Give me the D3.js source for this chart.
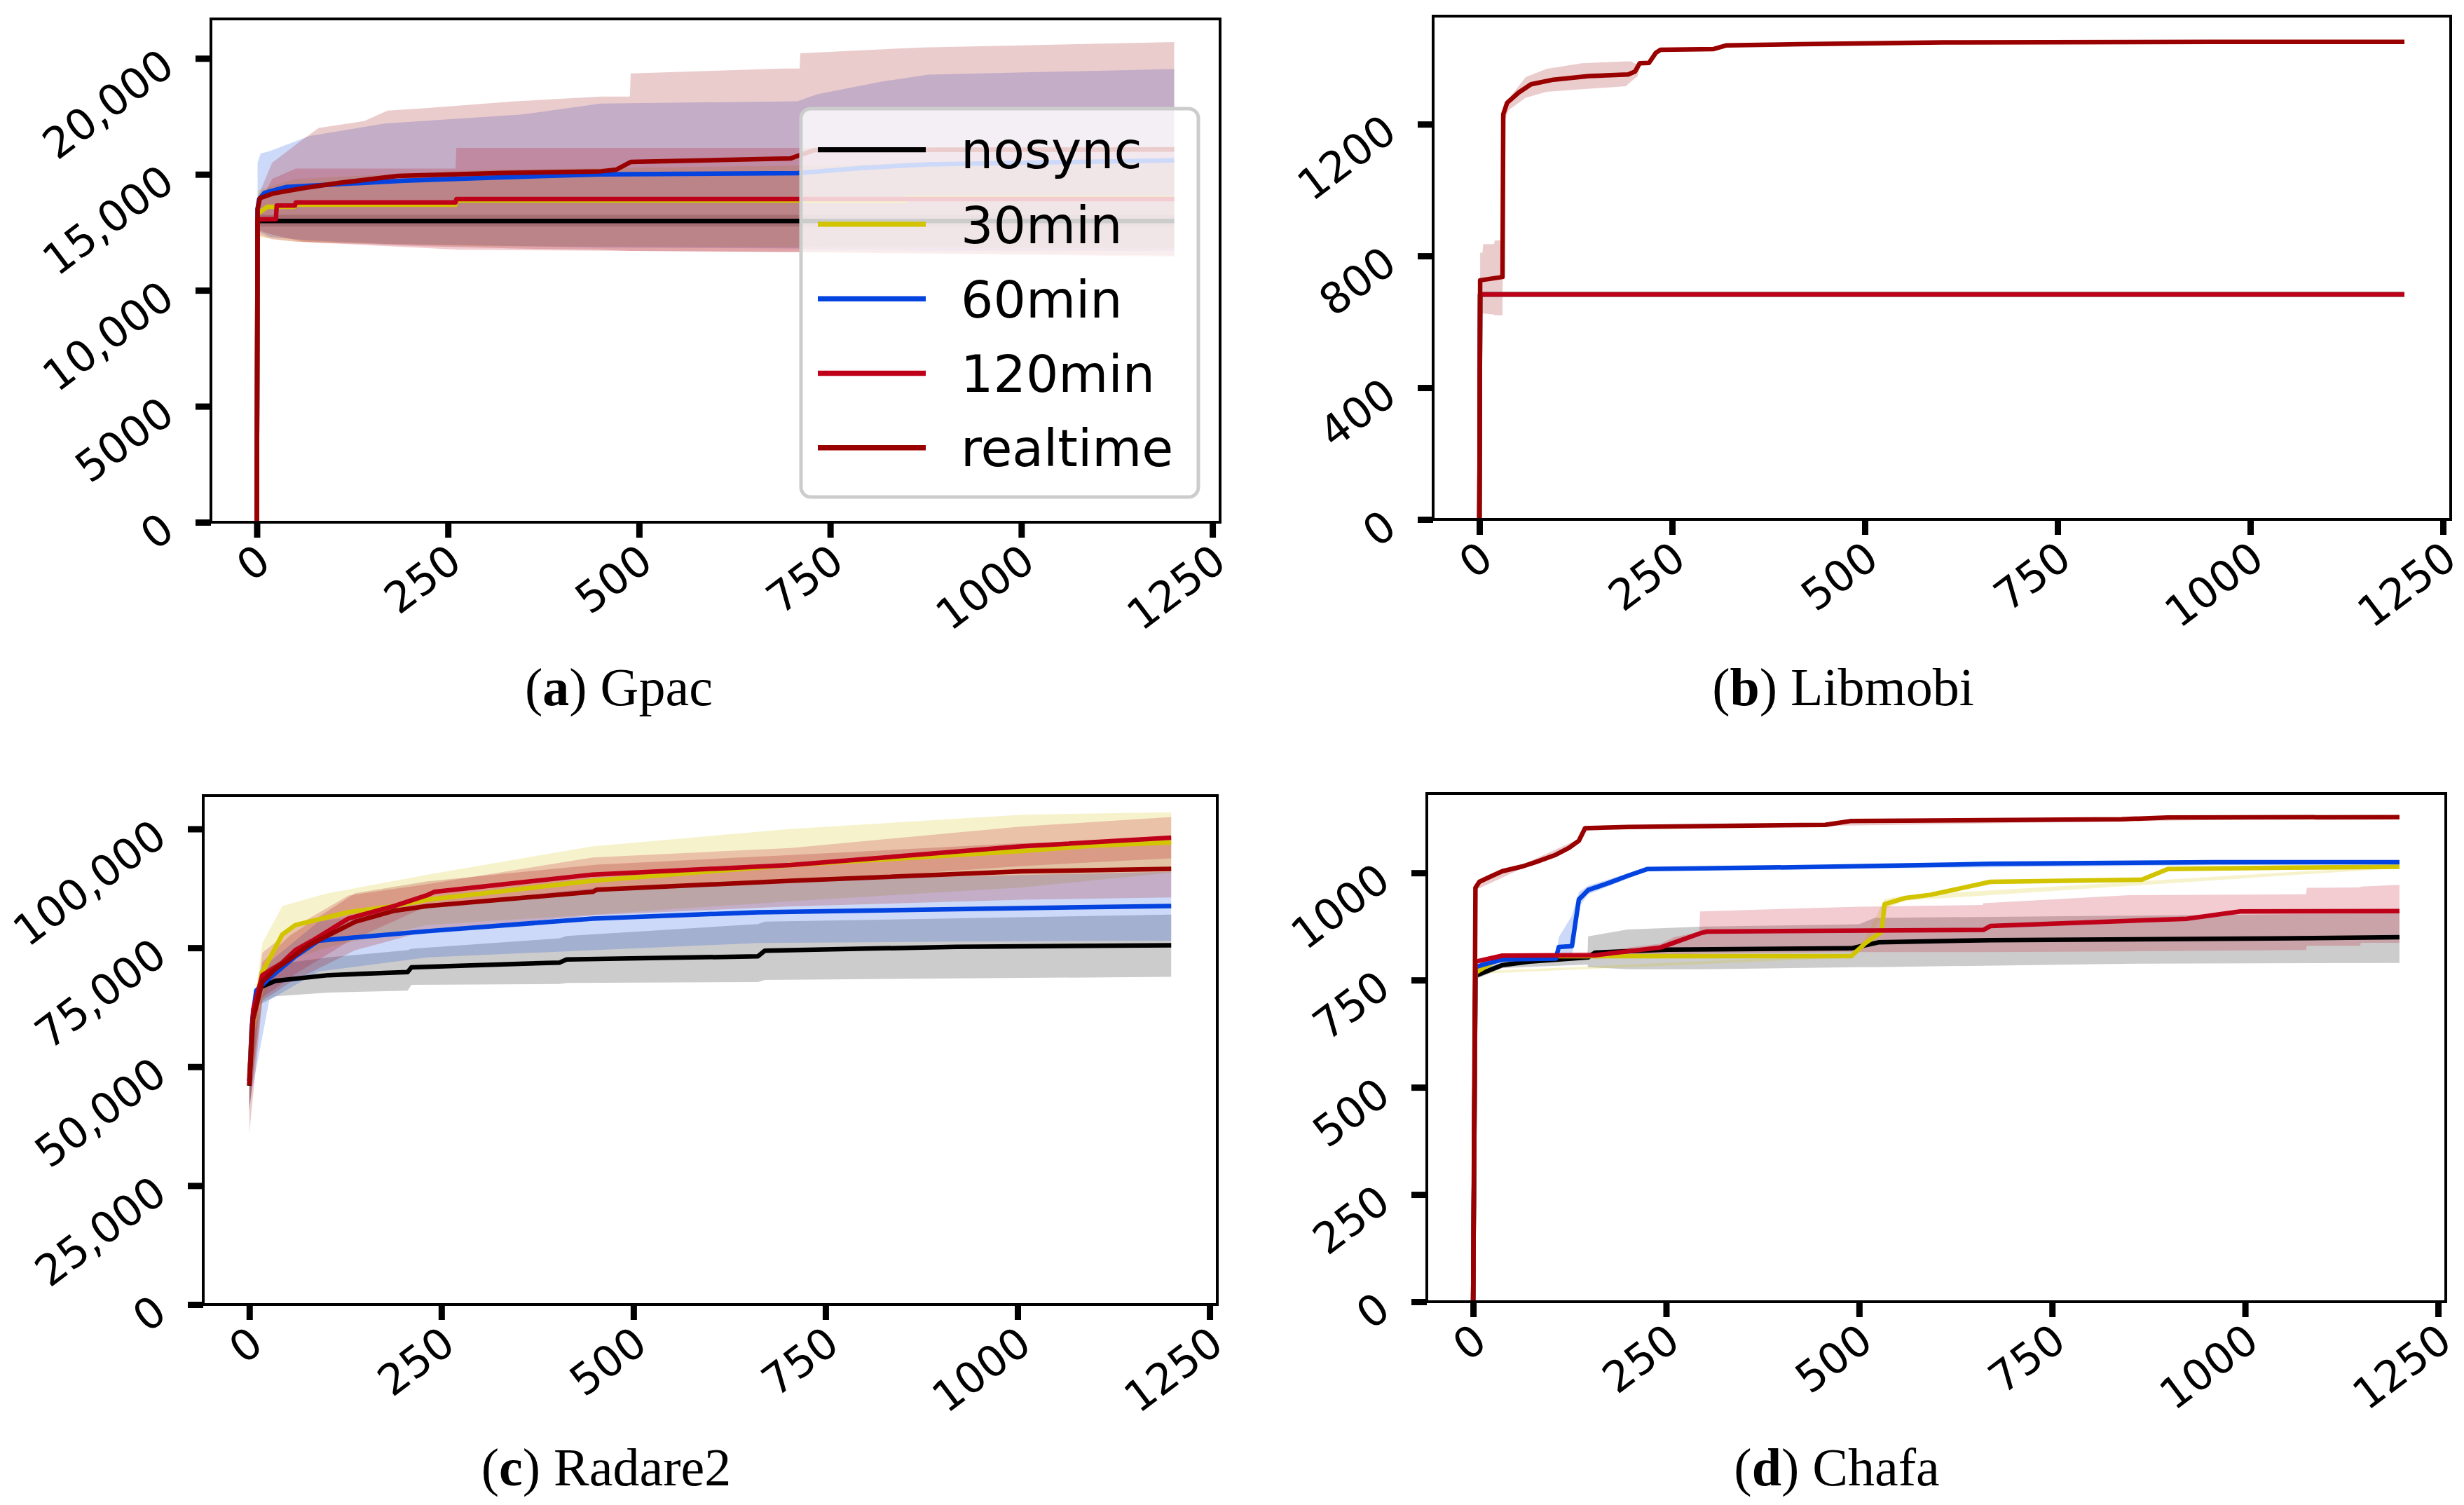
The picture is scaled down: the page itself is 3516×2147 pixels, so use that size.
<!DOCTYPE html>
<html><head><meta charset="utf-8">
<script src="https://cdn.jsdelivr.net/npm/d3@7/dist/d3.min.js"></script>
<style>html,body{margin:0;padding:0;background:#fff}svg{display:block}</style>
</head><body>
<svg id="chart" width="3516" height="2147"></svg>
<script>
// ---------------- data ----------------
const seriesNames = ["nosync", "30min", "60min", "120min", "realtime"];
const seriesColors = ["#000000", "#d2c400", "#0343df", "#be0119", "#990000"];
const xTickValues = [0, 250, 500, 750, 1000, 1250];
const xTickLabels = ["0", "250", "500", "750", "1000", "1250"];

const gpacYTicks = [0, 5000, 10000, 15000, 20000];
const gpacYLabels = ["0", "5000", "10,000", "15,000", "20,000"];
const libmobiYTicks = [0, 400, 800, 1200];
const libmobiYLabels = ["0", "400", "800", "1200"];
const radareYTicks = [0, 25000, 50000, 75000, 100000];
const radareYLabels = ["0", "25,000", "50,000", "75,000", "100,000"];
const chafaYTicks = [0, 250, 500, 750, 1000];
const chafaYLabels = ["0", "250", "500", "750", "1000"];

// mean curves: [time, value]
const gpacMean = {
  nosync: [[0,0],[1,12990],[1200,12990]],
  "30min": [[0,0],[1,13300],[14,13600],[49,13600],[50,13690],[260,13690],[261,13870],[849,13870],[850,13960],[1200,13960]],
  "60min": [[0,0],[1,13500],[3,13930],[10,14200],[39,14456],[110,14580],[193,14728],[300,14850],[450,15000],[707,15050],[793,15281],[878,15432],[1000,15500],[1200,15600]],
  "120min": [[0,0],[1,13066],[25,13066],[26,13650],[50,13650],[51,13790],[260,13790],[261,13930],[1200,13930]],
  realtime: [[0,0],[1,13500],[4,13970],[21,14170],[60,14400],[107,14626],[184,14928],[321,15059],[450,15130],[470,15200],[489,15532],[698,15683],[711,15835],[730,16050],[1200,16070]]
};
// bands: [time, low, high]
const gpacBand = {
  nosync: [[1,12750,13250],[1200,12750,13250]],
  "30min": [[1,12300,14300],[50,12100,14800],[300,11900,15200],[1200,11800,15600]],
  "60min": [[1,12600,15500],[5,12500,15900],[17,12300,16000],[69,12150,16650],[167,12000,17190],[347,11900,17580],[450,11850,18050],[707,11800,18150],[733,11750,18450],[818,11750,19000],[878,11700,19300],[1200,11700,19540]],
  "120min": [[1,12400,13600],[20,12200,14800],[51,12100,15250],[260,11760,15250],[261,11750,16140],[700,11650,16140],[1200,11450,16200]],
  realtime: [[1,12600,14000],[20,12400,15500],[60,12100,16500],[81,12050,17000],[141,12000,17300],[171,11950,17750],[218,11900,17850],[338,11800,18150],[450,11750,18350],[488,11700,18350],[489,11700,19350],[690,11650,19560],[710,11650,19560],[711,11650,20220],[870,11600,20470],[1200,11500,20700]]
};

const libmobiMean = {
  nosync: [[0,0],[1,683],[1200,683]],
  "30min": [[0,0],[1,683],[1200,683]],
  "60min": [[0,0],[1,683],[1200,683]],
  "120min": [[0,0],[1,683],[1200,683]],
  realtime: [[0,0],[1,726],[30,736],[31,1230],[36,1265],[51,1296],[67,1321],[96,1335],[142,1346],[193,1351],[202,1360],[208,1385],[220,1386],[229,1417],[235,1426],[304,1428],[320,1439],[417,1443],[601,1448],[950,1450],[1200,1450]]
};
const libmobiBand = {
  nosync: [], "30min": [], "60min": [], "120min": [],
  realtime: [[1,625,810],[4,625,810],[5,625,836],[19,622,836],[20,620,847],[30,620,847],[31,1200,1245],[38,1243,1277],[60,1280,1343],[87,1298,1368],[133,1306,1385],[190,1315,1391],[197,1330,1391],[205,1345,1380],[210,1385,1385]]
};

const radareMean = {
  nosync: [[0,46000],[3,58000],[8,64000],[13,66600],[34,68060],[103,69250],[206,69900],[211,70900],[404,71900],[413,72550],[662,73200],[671,74400],[920,75200],[1200,75530]],
  "30min": [[0,48000],[3,57000],[9,64000],[17,69900],[43,77800],[60,79800],[129,82500],[189,83800],[232,85100],[447,89100],[705,92400],[1006,95370],[1100,96500],[1200,97150]],
  "60min": [[0,47000],[4,60000],[9,66000],[26,68600],[60,73200],[90,76500],[232,78500],[447,81150],[662,82470],[920,83130],[1200,83800]],
  "120min": [[0,47000],[5,62000],[17,69250],[43,71900],[60,74530],[82,76500],[129,81150],[189,83800],[232,86100],[241,86770],[447,90400],[705,92400],[1006,96350],[1200,98150]],
  realtime: [[0,46100],[5,60000],[17,67900],[34,70560],[52,72550],[77,75530],[138,80500],[189,82800],[232,83800],[447,86770],[452,87200],[705,89100],[1006,91070],[1200,91600]]
};
const radareBand = {
  nosync: [[0,40000,52000],[13,63000,70000],[34,64800,71500],[103,65600,73000],[206,66000,74500],[211,67200,74800],[404,67400,77000],[413,67600,77500],[662,67800,80000],[671,68250,80500],[1200,68900,82000]],
  "30min": [[0,42000,56000],[17,64000,76000],[43,71800,83800],[100,75000,86400],[232,79800,90400],[447,82000,96350],[705,84800,100000],[1006,87700,103000],[1200,90800,103500]],
  "60min": [[0,42000,52000],[26,64000,72000],[90,70000,80500],[232,73000,84000],[447,74500,87500],[662,76000,89000],[920,76300,90000],[1200,76500,91000]],
  "120min": [[0,41000,53000],[17,64500,74000],[60,69500,79500],[129,76300,86000],[232,83800,88400],[447,86800,94000],[705,88800,96000],[1006,92200,100500],[1200,93800,102500]],
  realtime: [[0,36000,52000],[17,63800,72000],[52,67600,77500],[138,74500,86500],[232,78600,89000],[452,81900,92500],[705,83700,94500],[1006,85100,97000],[1200,85600,97600]]
};

const chafaMean = {
  nosync: [[0,0],[3,760],[38,785],[73,793],[149,803],[158,814],[252,821],[490,824],[525,838],[670,843],[1036,847],[1200,850]],
  "30min": [[0,0],[3,767],[30,796],[73,806],[490,806],[508,836],[529,862],[533,927],[559,941],[593,949],[670,979],[866,984],[900,1009],[1053,1012],[1200,1014]],
  "60min": [[0,0],[3,780],[13,786],[38,798],[107,800],[111,827],[128,829],[137,938],[149,960],[175,976],[200,993],[226,1009],[456,1014],[670,1021],[960,1025],[1200,1025]],
  "120min": [[0,0],[3,793],[38,807],[158,808],[243,826],[260,837],[294,859],[303,863],[661,867],[670,876],[925,893],[977,906],[994,910],[1200,911]],
  realtime: [[0,0],[3,965],[8,979],[21,990],[38,1004],[64,1015],[81,1025],[107,1042],[124,1058],[137,1075],[145,1104],[200,1107],[456,1112],[490,1121],[840,1125],[900,1129],[1200,1130]]
};
const chafaBand = {
  nosync: [[3,752,768],[38,778,792],[148,786,800],[149,780,852],[200,775,868],[300,775,875],[500,780,880],[520,780,895],[840,788,900],[1200,790,906]],
  "30min": [[3,764,770],[490,803,809],[508,825,847],[533,915,939],[559,935,947],[1200,1011,1017]],
  "60min": [[3,775,785],[107,795,805],[111,800,850],[128,805,900],[137,920,955],[149,950,970],[226,1005,1013],[1200,1022,1028]],
  "120min": [[3,788,798],[38,800,812],[158,800,816],[243,805,835],[260,808,850],[293,812,862],[294,812,910],[500,815,921],[660,815,925],[661,815,929],[850,817,948],[1079,820,950],[1080,830,965],[1149,830,966],[1150,837,968],[1200,837,972]],
  realtime: [[3,960,970],[64,1011,1019],[137,1071,1079],[145,1101,1107],[1200,1130,1130]]
};

// ---------------- layout ----------------
const panels = [
  {mean: gpacMean, band: gpacBand, yTicks: gpacYTicks, yLabels: gpacYLabels, yMax: 21700,
   box: [301, 27, 1741, 745], letter: "a", name: "Gpac", capX: 883, capY: 1006, legend: true},
  {mean: libmobiMean, band: libmobiBand, yTicks: libmobiYTicks, yLabels: libmobiYLabels, yMax: 1528,
   box: [2045, 23, 3497, 741], letter: "b", name: "Libmobi", capX: 2630, capY: 1006, legend: false},
  {mean: radareMean, band: radareBand, yTicks: radareYTicks, yLabels: radareYLabels, yMax: 107000,
   box: [290, 1135, 1737, 1861], letter: "c", name: "Radare2", capX: 865, capY: 2119, legend: false},
  {mean: chafaMean, band: chafaBand, yTicks: chafaYTicks, yLabels: chafaYLabels, yMax: 1185,
   box: [2036, 1132, 3490, 1857], letter: "d", name: "Chafa", capX: 2621, capY: 2119, legend: false}
];

const svg = d3.select("#chart");
const TICK_LEN = 22, TICK_W = 9, ROT = 37, TICK_FONT = 61;

panels.forEach((p, pi) => {
  const [L, T, R, B] = p.box;
  const x = d3.scaleLinear().domain([-60, 1260]).range([L, R]);
  const y = d3.scaleLinear().domain([0, p.yMax]).range([B, T]);
  const g = svg.append("g");
  const clipId = "clip" + pi;
  g.append("clipPath").attr("id", clipId).append("rect")
    .attr("x", L).attr("y", T).attr("width", R - L).attr("height", B - T);
  const plot = g.append("g").attr("clip-path", `url(#${clipId})`);

  const area = d3.area().x(d => x(d[0])).y0(d => y(d[1])).y1(d => y(d[2])).curve(d3.curveLinear);
  const line = d3.line().x(d => x(d[0])).y(d => y(d[1])).curve(d3.curveLinear);

  seriesNames.forEach((s, i) => {
    const b = p.band[s];
    if (b && b.length) {
      plot.append("path").attr("d", area(b))
        .attr("fill", seriesColors[i]).attr("fill-opacity", 0.2).attr("stroke", "none");
    }
  });
  seriesNames.forEach((s, i) => {
    plot.append("path").attr("d", line(p.mean[s]))
      .attr("fill", "none").attr("stroke", seriesColors[i]).attr("stroke-width", 6.5)
      .attr("stroke-linejoin", "round").attr("stroke-linecap", "butt");
  });

  // axes
  const xAxis = d3.axisBottom(x).tickValues(xTickValues).tickSize(TICK_LEN).tickSizeOuter(0)
    .tickFormat((d, i) => xTickLabels[i]);
  const gx = g.append("g").attr("transform", `translate(0,${B})`).call(xAxis);
  gx.select(".domain").remove();
  gx.selectAll(".tick line").attr("stroke", "#000").attr("stroke-width", TICK_W);
  gx.selectAll(".tick text")
    .attr("font-family", "DejaVu Sans").attr("font-size", TICK_FONT).attr("fill", "#000")
    .attr("text-anchor", "end").attr("y", null).attr("dy", "0.72em")
    .attr("transform", `translate(-4,${TICK_LEN + 6}) rotate(${-ROT})`);

  const yAxis = d3.axisLeft(y).tickValues(p.yTicks).tickSize(TICK_LEN).tickSizeOuter(0)
    .tickFormat((d, i) => p.yLabels[i]);
  const gy = g.append("g").attr("transform", `translate(${L},0)`).call(yAxis);
  gy.select(".domain").remove();
  gy.selectAll(".tick line").attr("stroke", "#000").attr("stroke-width", TICK_W);
  gy.selectAll(".tick text")
    .attr("font-family", "DejaVu Sans").attr("font-size", TICK_FONT).attr("fill", "#000")
    .attr("text-anchor", "end").attr("x", null).attr("dy", "0.36em")
    .attr("transform", `translate(-62,0) rotate(${-ROT})`);

  // frame
  g.append("rect").attr("x", L).attr("y", T).attr("width", R - L).attr("height", B - T)
    .attr("fill", "none").attr("stroke", "#000").attr("stroke-width", 4);

  // legend
  if (p.legend) {
    const lg = g.append("g");
    lg.append("rect").attr("x", 1143).attr("y", 155).attr("width", 567).attr("height", 554)
      .attr("rx", 14).attr("ry", 14)
      .attr("fill", "#fff").attr("fill-opacity", 0.8)
      .attr("stroke", "#cccccc").attr("stroke-width", 5);
    seriesNames.forEach((s, i) => {
      const ry = 213.6 + i * 106.3;
      lg.append("line").attr("x1", 1167).attr("x2", 1321).attr("y1", ry).attr("y2", ry)
        .attr("stroke", seriesColors[i]).attr("stroke-width", 7.4);
      lg.append("text").attr("x", 1371).attr("y", ry).attr("dy", "0.365em")
        .attr("font-family", "DejaVu Sans").attr("font-size", 73).attr("fill", "#000").text(s);
    });
  }

  // caption
  const cap = svg.append("text").attr("x", p.capX).attr("y", p.capY)
    .attr("text-anchor", "middle").attr("font-family", "Liberation Serif, serif")
    .attr("font-size", 76).attr("fill", "#000");
  cap.append("tspan").text("(");
  cap.append("tspan").attr("font-weight", "bold").text(p.letter);
  cap.append("tspan").text(") " + p.name);
});
</script>
</body></html>
